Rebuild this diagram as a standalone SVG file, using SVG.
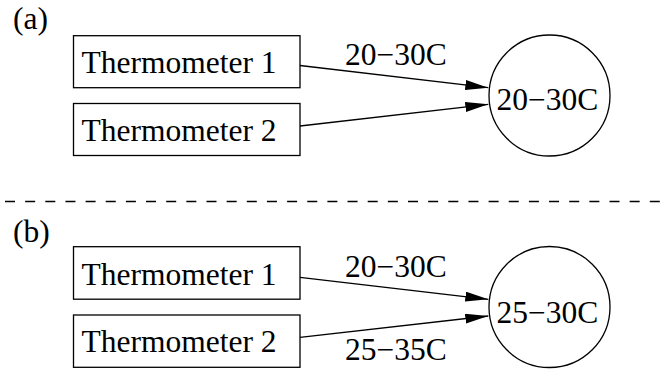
<svg xmlns="http://www.w3.org/2000/svg" width="668" height="370" viewBox="0 0 668 370">
  <style>
    text { font-family: "Liberation Serif", "Times New Roman", serif; font-size: 31.5px; fill: #000; }
    .box { fill: #fff; stroke: #000; stroke-width: 1.3; }
    .node { fill: #fff; stroke: #000; stroke-width: 1.3; }
    .edge { stroke: #000; stroke-width: 1.3; fill: none; marker-end: url(#arrow); }
    .mid { text-anchor: middle; }
  </style>
  <defs>
    <marker id="arrow" markerUnits="userSpaceOnUse" markerWidth="24" markerHeight="12" refX="23" refY="5" orient="auto">
      <path d="M0,0 L23,5 L0,10 Z" fill="#000"/>
    </marker>
  </defs>

  <rect width="668" height="370" fill="#fff"/>

  <!-- part (a) -->
  <text x="13" y="29">(a)</text>
  <g id="a-therm1">
    <rect class="box" x="73.5" y="35.7" width="226.5" height="52"/>
    <text x="81.5" y="73.3">Thermometer 1</text>
  </g>
  <g id="a-therm2">
    <rect class="box" x="73.5" y="103.5" width="226.5" height="52"/>
    <text x="81.5" y="141">Thermometer 2</text>
  </g>
  <g id="a-result">
    <circle class="node" cx="549.5" cy="95.5" r="60.5"/>
    <text class="mid" x="547.5" y="110">20−30C</text>
  </g>
  <g id="a-edges">
    <line class="edge" x1="300" y1="65.5" x2="488.3" y2="87.7"/>
    <line class="edge" x1="300" y1="126" x2="488.3" y2="104.3"/>
    <text x="345" y="65">20−30C</text>
  </g>

  <!-- separator -->
  <line x1="5" y1="201.5" x2="661" y2="201.5" stroke="#000" stroke-width="1.3" stroke-dasharray="10 10.15"/>

  <!-- part (b) -->
  <text x="13" y="241.5">(b)</text>
  <g id="b-therm1">
    <rect class="box" x="73.5" y="246.7" width="226.5" height="52.5"/>
    <text x="81.5" y="285">Thermometer 1</text>
  </g>
  <g id="b-therm2">
    <rect class="box" x="73.5" y="315" width="226.5" height="52.3"/>
    <text x="81.5" y="351.7">Thermometer 2</text>
  </g>
  <g id="b-result">
    <circle class="node" cx="549.5" cy="307" r="60.5"/>
    <text class="mid" x="547.5" y="323.3">25−30C</text>
  </g>
  <g id="b-edges">
    <line class="edge" x1="300" y1="277.3" x2="488.3" y2="299.3"/>
    <line class="edge" x1="300" y1="337.3" x2="488.3" y2="316"/>
    <text x="345" y="276.7">20−30C</text>
    <text x="345" y="360">25−35C</text>
  </g>
</svg>
